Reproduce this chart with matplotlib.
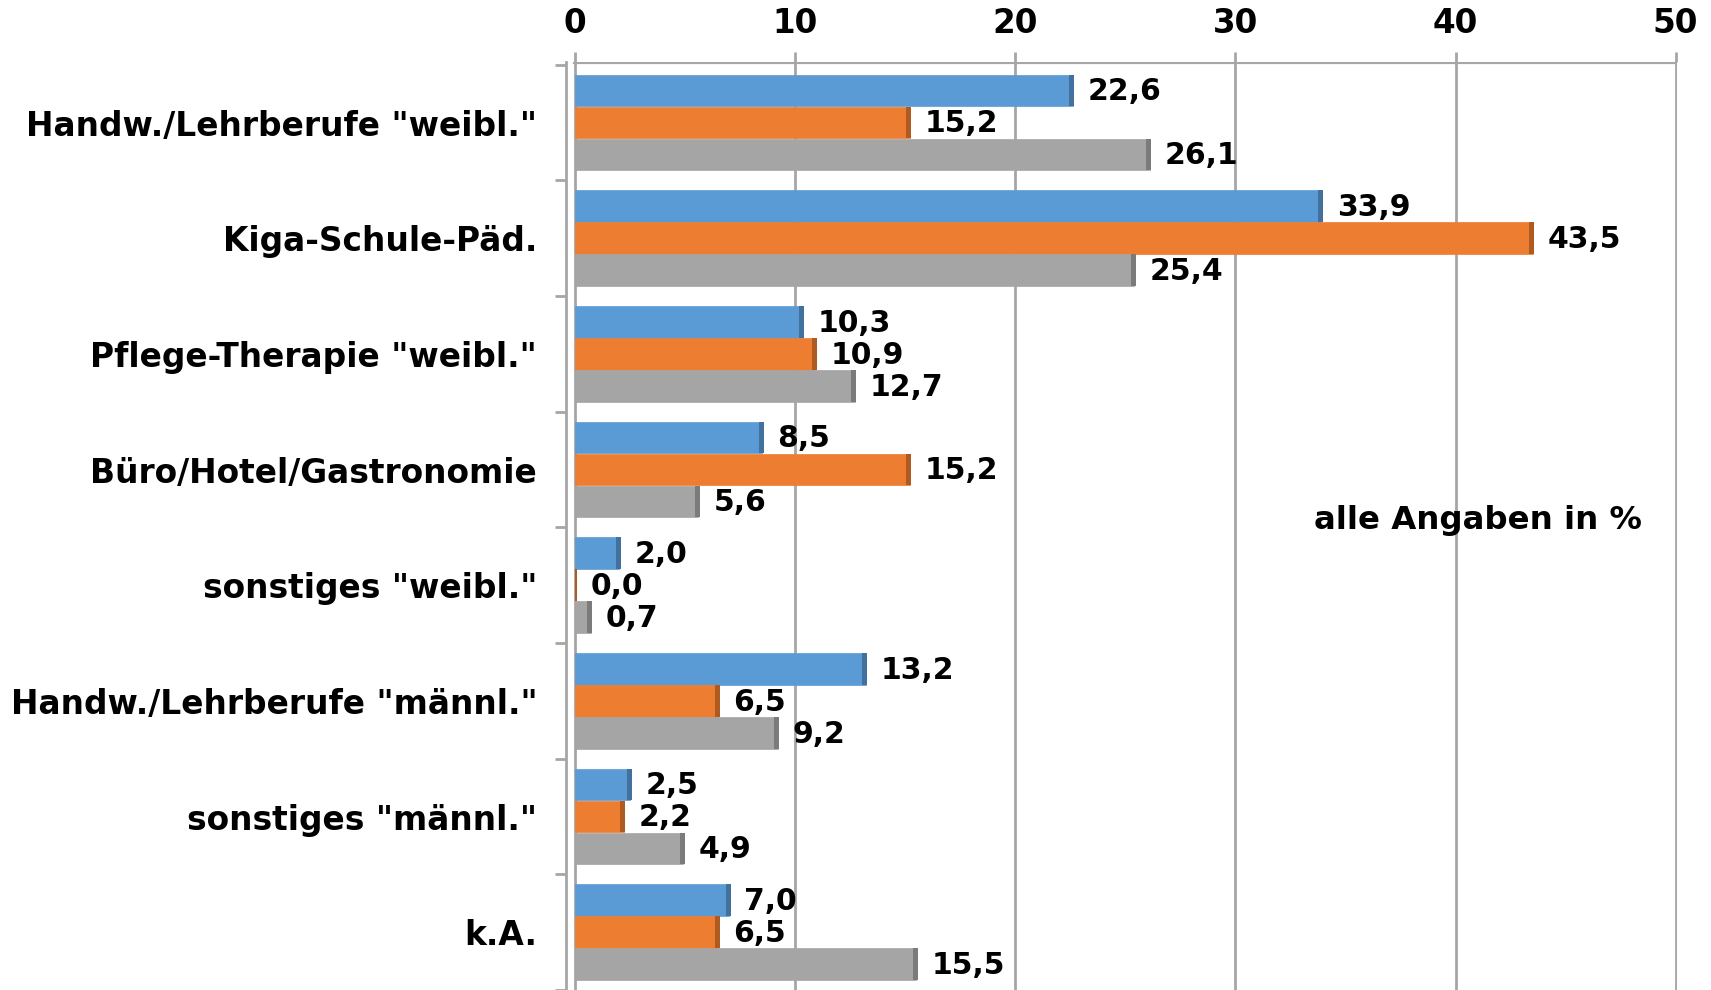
import numpy as np
import matplotlib
matplotlib.use("Agg")
import matplotlib.pyplot as plt

# data
categories = ['Handw./Lehrberufe "weibl."', 'Kiga-Schule-Päd.', 'Pflege-Therapie "weibl."',
              'Büro/Hotel/Gastronomie', 'sonstiges "weibl."', 'Handw./Lehrberufe "männl."',
              'sonstiges "männl."', 'k.A.']
series_blue = [22.6, 33.9, 10.3, 8.5, 2.0, 13.2, 2.5, 7.0]
series_orange = [15.2, 43.5, 10.9, 15.2, 0.0, 6.5, 2.2, 6.5]
series_gray = [26.1, 25.4, 12.7, 5.6, 0.7, 9.2, 4.9, 15.5]
xticks = [0, 10, 20, 30, 40, 50]
note = "alle Angaben in %"

colors = ["#5B9BD5", "#ED7D31", "#A5A5A5"]
darks = ["#41719C", "#AE5A21", "#7B7B7B"]

plt.rcParams['font.family'] = ['DejaVu Sans']
plt.rcParams['font.weight'] = 'bold'
FS = 21.5

fig = plt.figure(figsize=(17.11, 9.9), dpi=100)
ax = fig.add_axes([0.331, 0.0, 0.649, 0.937])

y = np.arange(len(categories))
h = 0.274
offsets = [-0.277, 0.0, 0.277]
end_w = 0.15

for i, vals in enumerate([series_blue, series_orange, series_gray]):
    vals = np.array(vals)
    ax.barh(y + offsets[i], vals, height=h, color=colors[i], edgecolor=colors[i],
            linewidth=0.5, zorder=3)
    # darker end cap for a 3D look
    w = np.minimum(vals, end_w) + 0.08
    ax.barh(y + offsets[i], w, left=vals - w + 0.08, height=h, color=darks[i],
            linewidth=0, zorder=3)
    for yy, v in zip(y + offsets[i], vals):
        ax.annotate(f"{v:.1f}".replace(".", ","), (v, yy), xytext=(11, -1),
                    textcoords="offset points", va="center", ha="left",
                    fontsize=FS, fontweight="bold", color="black", zorder=4)

ax.set_xlim(-0.4, 50.05)
ax.set_ylim(7.47, -0.52)

# gridlines and frame
for t in xticks:
    ax.axvline(t, color="#A6A6A6", linewidth=2, zorder=1)
ax.axhline(-0.52, xmin=0.4 / 50.45, xmax=1.0, color="#A6A6A6", linewidth=3, zorder=1)

for s in ["right", "bottom", "top"]:
    ax.spines[s].set_visible(False)
ax.spines["left"].set_color("#A6A6A6")
ax.spines["left"].set_linewidth(2)

ax.xaxis.tick_top()
ax.set_xticks(xticks)
ax.set_xticklabels([str(t) for t in xticks], fontsize=23.5, fontweight="bold")
ax.tick_params(axis="x", length=7, width=2, color="#A6A6A6", pad=9)

ax.set_yticks(y)
ax.set_yticklabels(categories, fontsize=23.7, fontweight="bold")
ax.tick_params(axis="y", length=0, pad=21)
ax.set_yticks(np.arange(len(categories) + 1) - 0.5, minor=True)
ax.tick_params(axis="y", which="minor", length=8, width=2, color="#A6A6A6")

ax.text(0.969, 0.506, note, transform=ax.transAxes, ha="right", va="center",
        fontsize=23.3, fontweight="bold")

fig.savefig("out.png", dpi=100)
